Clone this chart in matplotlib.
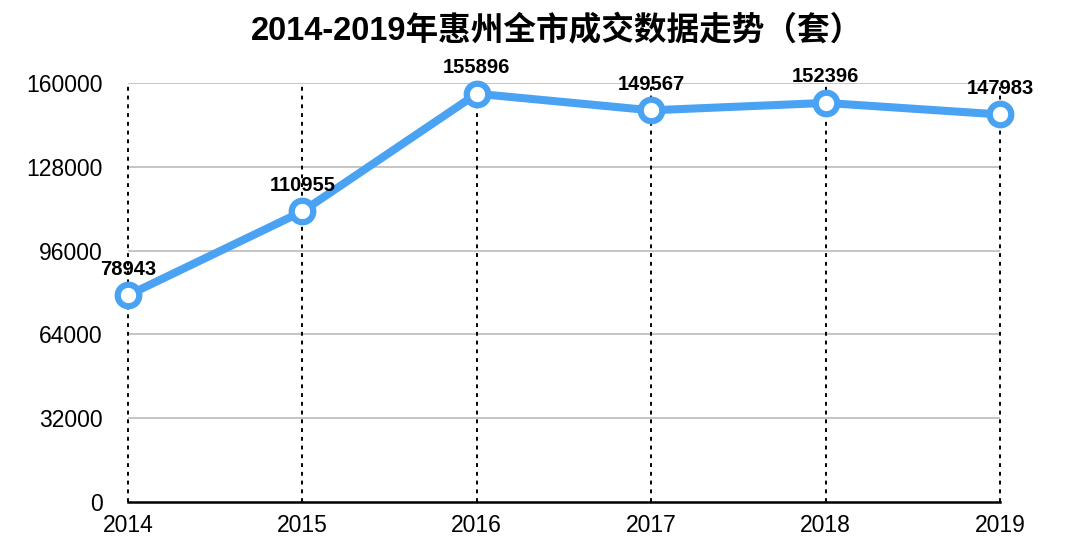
import matplotlib
matplotlib.use("Agg")
import matplotlib.pyplot as plt

years = [2014, 2015, 2016, 2017, 2018, 2019]
values = [78943, 110955, 155896, 149567, 152396, 147983]
yticks = [0, 32000, 64000, 96000, 128000, 160000]
title = "2014-2019年惠州全市成交数据走势（套）"

plt.rcParams['font.family'] = ['Liberation Sans', 'Noto Sans CJK SC', 'DejaVu Sans']

fig = plt.figure(figsize=(10.8, 5.5), dpi=100)
ax = fig.add_axes([128/1080, 48/550, 872/1080, 419/550])

ax.set_xlim(years[0], years[-1])
ax.set_ylim(yticks[0], yticks[-1])
ax.set_yticks(yticks)
ax.set_xticks(years)
ax.set_yticklabels([str(v) for v in yticks])
ax.set_xticklabels([str(y) for y in years])

for v in yticks[1:]:
    ax.axhline(v, color='#b5b5b5', lw=1.1, zorder=1)
for y in years:
    ax.axvline(y, color='black', lw=1.4, ls=(0, (2, 2.5)), zorder=1, clip_on=False)

for s in ['top', 'right', 'left']:
    ax.spines[s].set_visible(False)
ax.spines['bottom'].set_linewidth(1.8)
ax.spines['bottom'].set_color('black')
ax.spines['bottom'].set_zorder(2)

ax.tick_params(axis='both', length=0, labelsize=16.5, colors='black')
ax.tick_params(axis='y', pad=18)
ax.tick_params(axis='x', pad=9)

color = '#4aa2f3'
ax.plot(years, values, color=color, lw=5.8, marker='o', markersize=15.5,
        markerfacecolor='white', markeredgecolor=color, markeredgewidth=4.5,
        zorder=3, clip_on=False)

for x, v in zip(years, values):
    ax.annotate(str(v), (x, v), xytext=(0, 12), textcoords='offset points',
                ha='center', va='bottom', fontsize=14.5, fontweight='bold',
                color='black', zorder=4)

fig.text(557/1080, 1 - 31/550, title, ha='center', va='center',
         fontsize=23.5, fontweight='bold',
         family=['Liberation Sans', 'Noto Sans CJK SC', 'DejaVu Sans'])

fig.savefig('out.png', dpi=100)
